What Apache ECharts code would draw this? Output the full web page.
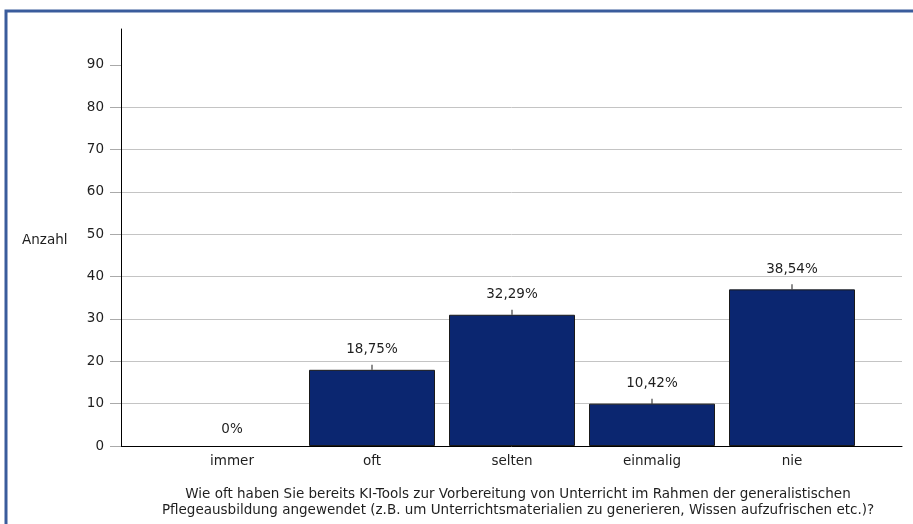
<!DOCTYPE html>
<html>
<head>
<meta charset="utf-8">
<script src="https://cdn.jsdelivr.net/npm/echarts@6/dist/echarts.min.js"></script>
<style>
  html, body { margin: 0; padding: 0; background: #fff; }
  #chart { width: 913px; height: 524px; }
</style>
</head>
<body>
<div id="chart"></div>
<script>
const categories = ['immer', 'oft', 'selten', 'einmalig', 'nie']
const counts = [0, 18, 31, 10, 37]
const yTicks = [0, 10, 20, 30, 40, 50, 60, 70, 80, 90]
const yMax = 98.5
const yName = 'Anzahl'
const question = 'Wie oft haben Sie bereits KI-Tools zur Vorbereitung von Unterricht im Rahmen der generalistischen\nPflegeausbildung angewendet (z.B. um Unterrichtsmaterialien zu generieren, Wissen aufzufrischen etc.)?'

const total = counts.reduce((a, b) => a + b, 0)
const font = 'DejaVu Sans'
const fs = 13.5
const txt = '#1e1e1e'

function pct(v) {
  return parseFloat((v / total * 100).toFixed(2)).toString().replace('.', ',') + '%'
}

// zero bars: no outline, label sits lower, no leader tick
const barData = counts.map(v => v === 0
  ? { value: v, itemStyle: { borderWidth: 0 }, label: { distance: 10 } }
  : v)
const tickData = counts.map(v => v === 0 ? '-' : v)

const chart = echarts.init(document.getElementById('chart'))

chart.setOption({
  animation: false,
  textStyle: { fontFamily: font },
  graphic: [{
    type: 'rect',
    shape: { x: 6, y: 11, width: 1200, height: 1200 },
    style: { fill: 'none', stroke: '#3a5c9c', lineWidth: 3 },
    silent: true
  }],
  title: [{
    text: yName,
    left: 17, top: 227,
    textStyle: { fontFamily: font, fontSize: fs, fontWeight: 'normal', color: txt, lineHeight: 16 }
  }, {
    text: question,
    left: 513, top: 481, textAlign: 'center',
    textStyle: { fontFamily: font, fontSize: fs, fontWeight: 'normal', color: txt, lineHeight: 16 }
  }],
  grid: [
    { left: 121, right: 11, top: 29, bottom: 78 },
    { left: 162, right: 51, top: 29, bottom: 78 }
  ],
  xAxis: [{
    gridIndex: 0, type: 'value', min: 0, max: 1,
    axisLine: { show: true, lineStyle: { color: '#000', width: 1 } },
    axisTick: { show: false }, axisLabel: { show: false }, splitLine: { show: false }
  }, {
    gridIndex: 1, type: 'category', data: categories,
    axisLine: { show: false }, axisTick: { show: false },
    axisLabel: { fontFamily: font, fontSize: fs, color: txt, margin: 8 }
  }],
  yAxis: [{
    gridIndex: 0, type: 'value', min: 0, max: yMax, interval: 10,
    axisLine: { show: true, lineStyle: { color: '#000', width: 1 } },
    axisTick: { show: true, length: 11, lineStyle: { color: '#aaa' }, customValues: yTicks },
    axisLabel: { fontFamily: font, fontSize: fs, color: txt, margin: 17, customValues: yTicks },
    splitLine: { show: true, showMaxLine: false, lineStyle: { color: '#c4c4c4', width: 1 } }
  }, {
    gridIndex: 1, type: 'value', min: 0, max: yMax, show: false
  }],
  series: [{
    type: 'bar',
    xAxisIndex: 1, yAxisIndex: 1,
    data: barData,
    barCategoryGap: '10%',
    itemStyle: { color: '#0b2670', borderColor: '#1a1a1a', borderWidth: 1 },
    label: {
      show: true, position: 'top', distance: 13,
      fontFamily: font, fontSize: fs, color: txt,
      formatter: p => pct(p.value)
    }
  }, {
    // short leader tick between label and bar top
    type: 'scatter',
    xAxisIndex: 1, yAxisIndex: 1,
    data: tickData,
    symbol: 'rect',
    symbolSize: [1.2, 5],
    symbolOffset: [0, -2.5],
    itemStyle: { color: '#111' },
    silent: true,
    z: 3
  }]
})
</script>
</body>
</html>
